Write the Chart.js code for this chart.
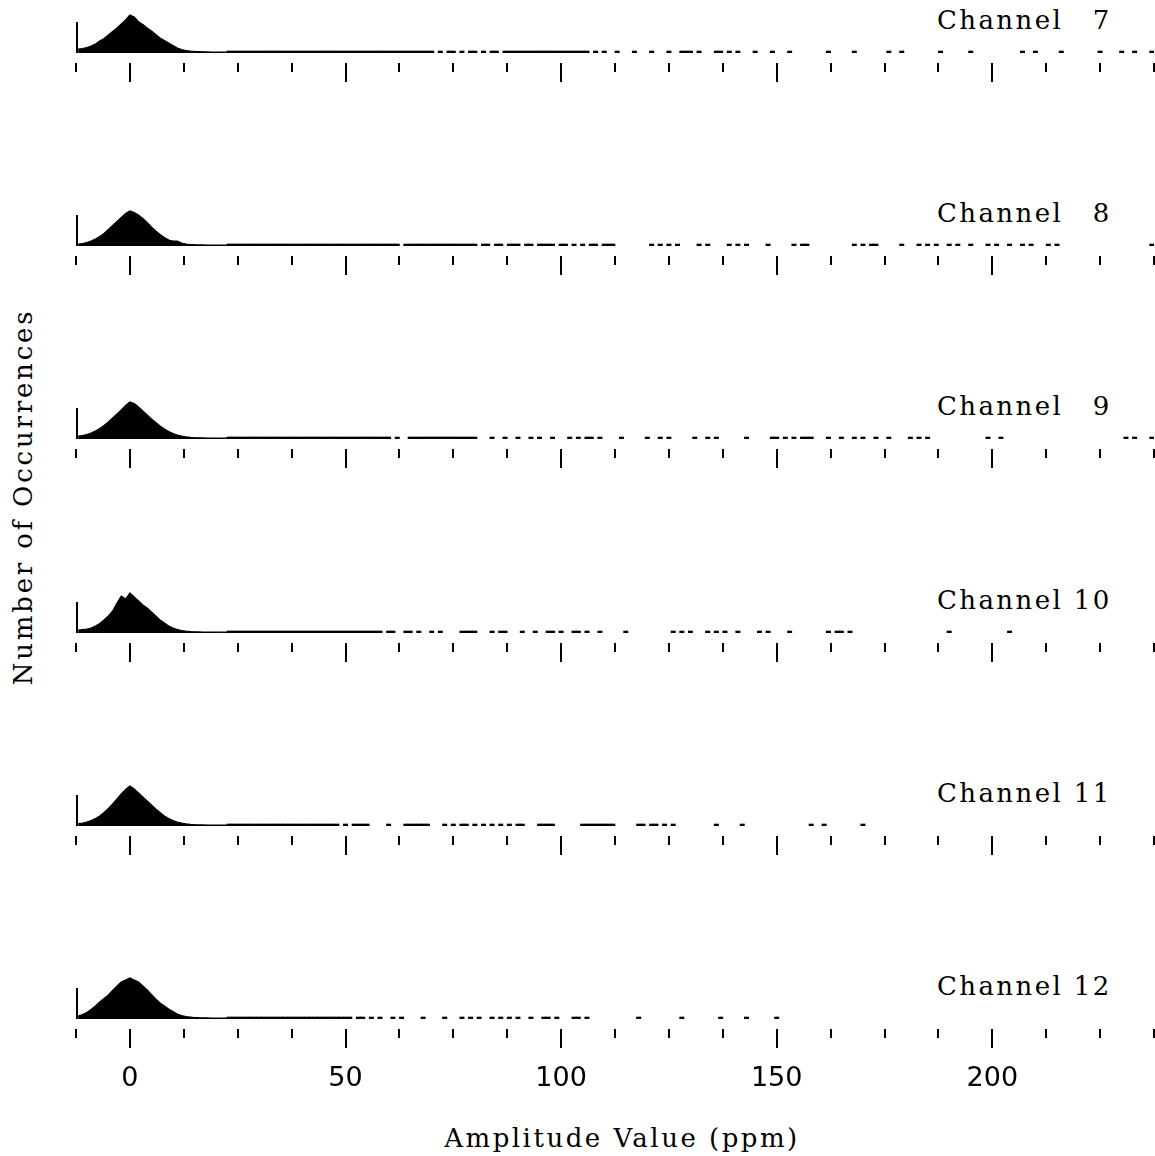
<!DOCTYPE html>
<html>
<head>
<meta charset="utf-8">
<script src="https://cdn.jsdelivr.net/npm/chart.js@4.4.1/dist/chart.umd.min.js"></script>
<style>
  body { margin: 0; width: 1155px; height: 1156px; background: #fff; position: relative; overflow: hidden;
         font-family: "DejaVu Serif", serif; color: #000; }
  .panel { position: absolute; left: 60px; width: 1095px; height: 130px; }
  .chan { position: absolute; left: 937px; white-space: pre; font-size: 26px; line-height: 1; letter-spacing: 2.4px; }
  #ytitle { position: absolute; left: 23px; top: 497px; white-space: nowrap; font-size: 26px; line-height: 1;
            letter-spacing: 2.8px; transform: translate(-50%, -50%) rotate(-90deg); }
  #xtitle { position: absolute; left: 622px; top: 1138px; white-space: nowrap; font-size: 26px; line-height: 1;
            letter-spacing: 2.5px; transform: translate(-50%, -50%); }
</style>
</head>
<body>
<div id="ytitle">Number of Occurrences</div>
<div id="xtitle">Amplitude Value (ppm)</div>
<script>
// Amplitude histograms, one panel per channel. Bins are 1 ppm wide.

const CHANNEL_NAMES = ["Channel\u2007 7", "Channel\u2007 8", "Channel\u2007 9", "Channel 10", "Channel 11", "Channel 12"];
const TICK_LABELS = [0, 50, 100, 150, 200];
const X_MIN = -12.5, X_MAX = 237.5, X_STEP = 12.5;
const Y_MAX = 1800;
const Y_AXIS_TOP = 1240;

// bins of the main peak
const CORE_BINS = [-12, -11, -10, -9, -8, -7, -6, -5, -4, -3, -2, -1, 0, 1, 2, 3, 4, 5, 6,
  7, 8, 9, 10, 11, 12, 13, 14, 15, 16, 17, 18, 19, 20, 21, 22, 23];

const ch7Core = [160, 180, 220, 280, 360, 480, 580, 720, 860, 1000, 1160, 1320, 1520, 1440, 1250, 1140,
  1000, 880, 740, 600, 500, 400, 300, 200, 140, 100, 80, 64, 56, 48, 44, 40, 40, 36, 32, 32];
const ch8Core = [80, 100, 140, 200, 280, 380, 500, 660, 820, 980, 1140, 1300, 1400, 1340, 1240, 1100,
  940, 760, 600, 460, 340, 240, 200, 200, 120, 80, 60, 52, 48, 44, 40, 40, 36, 36, 32, 32];
const ch9Core = [120, 140, 180, 240, 320, 420, 540, 680, 840, 1000, 1160, 1340, 1480, 1420, 1280, 1120,
  960, 800, 660, 520, 400, 300, 220, 160, 120, 88, 68, 56, 48, 44, 40, 40, 36, 36, 32, 32];
const ch10Core = [120, 140, 160, 200, 280, 380, 520, 680, 880, 1200, 1480, 1360, 1600, 1440, 1280, 1120,
  1000, 840, 680, 520, 400, 280, 200, 140, 100, 72, 56, 48, 44, 40, 40, 36, 36, 32, 32, 28];
const ch11Core = [100, 120, 160, 220, 300, 400, 540, 700, 880, 1080, 1280, 1460, 1600, 1480, 1320, 1160,
  1000, 840, 680, 540, 400, 300, 220, 160, 120, 88, 64, 52, 48, 44, 40, 40, 36, 36, 32, 32];
const ch12Core = [120, 180, 260, 380, 520, 680, 820, 960, 1140, 1320, 1480, 1560, 1640, 1560, 1480, 1320,
  1160, 980, 800, 640, 520, 400, 300, 200, 140, 100, 80, 60, 52, 48, 44, 40, 40, 36, 36, 32];

// bins further out that hold only an occurrence or two
const ch7Tail = [23, 24, 25, 26, 27, 28, 29, 30, 31, 32, 33, 34, 35, 36, 37, 38, 39, 40, 41, 42, 43, 44, 45, 46, 47,
  48, 49, 50, 51, 52, 53, 54, 55, 56, 57, 58, 59, 60, 61, 62, 63, 64, 65, 66, 67, 68, 69, 70, 72, 74, 75, 77,
  79, 80, 82, 84, 85, 87, 88, 89, 90, 91, 92, 93, 94, 95, 96, 97, 98, 99, 100, 101, 102, 103, 104, 105, 106,
  108, 110, 113, 117, 121, 125, 128, 129, 130, 132, 136, 137, 139, 141, 145, 149, 153, 162, 168, 176, 179,
  188, 195, 207, 210, 216, 225, 230, 233, 237];
const ch8Tail = [23, 24, 25, 26, 27, 28, 29, 30, 31, 32, 33, 34, 35, 36, 37, 38, 39, 40, 41, 42, 43, 44, 45, 46, 47,
  48, 49, 50, 51, 52, 53, 54, 55, 56, 57, 58, 59, 60, 61, 62, 64, 65, 66, 67, 68, 69, 70, 71, 72, 73, 74, 75,
  76, 77, 78, 79, 80, 82, 83, 85, 86, 88, 89, 90, 92, 93, 95, 96, 97, 98, 100, 101, 103, 105, 107, 108, 110,
  111, 112, 121, 123, 125, 127, 132, 134, 139, 141, 143, 148, 154, 156, 157, 168, 170, 172, 173, 179, 183,
  185, 187, 190, 192, 195, 199, 201, 204, 207, 209, 213, 215, 237];
const ch9Tail = [23, 24, 25, 26, 27, 28, 29, 30, 31, 32, 33, 34, 35, 36, 37, 38, 39, 40, 41, 42, 43, 44, 45, 46, 47,
  48, 49, 50, 51, 52, 53, 54, 55, 56, 57, 58, 59, 60, 62, 65, 66, 67, 68, 69, 70, 71, 72, 73, 74, 75, 76, 77,
  78, 79, 80, 84, 87, 90, 93, 95, 98, 102, 104, 106, 107, 109, 114, 120, 123, 125, 131, 134, 136, 143, 149,
  150, 152, 154, 156, 157, 158, 162, 165, 168, 170, 173, 176, 181, 183, 185, 199, 202, 231, 233, 237];
const ch10Tail = [23, 24, 25, 26, 27, 28, 29, 30, 31, 32, 33, 34, 35, 36, 37, 38, 39, 40, 41, 42, 43, 44, 45, 46, 47,
  48, 49, 50, 51, 52, 53, 54, 55, 56, 57, 58, 60, 61, 64, 65, 67, 70, 72, 77, 78, 79, 80, 84, 86, 87, 91, 94,
  97, 98, 100, 103, 104, 106, 109, 115, 126, 128, 130, 134, 136, 138, 141, 146, 148, 153, 162, 164, 165, 167,
  190, 204];
const ch11Tail = [23, 24, 25, 26, 27, 28, 29, 30, 31, 32, 33, 34, 35, 36, 37, 38, 39, 40, 41, 42, 43, 44, 45, 46, 47,
  48, 50, 52, 53, 54, 55, 60, 64, 65, 66, 67, 68, 69, 73, 75, 77, 78, 80, 82, 84, 86, 88, 90, 91, 95, 96, 97,
  98, 105, 106, 107, 108, 109, 110, 111, 112, 118, 119, 121, 122, 124, 126, 136, 142, 158, 161, 170];
const ch12Tail = [23, 24, 25, 26, 27, 28, 29, 30, 31, 32, 33, 34, 35, 36, 37, 38, 39, 40, 41, 42, 43, 44, 45, 46, 47,
  48, 49, 50, 51, 53, 54, 56, 58, 61, 63, 68, 73, 77, 79, 81, 84, 86, 88, 90, 93, 96, 97, 99, 103, 104, 106,
  118, 128, 137, 143, 150];

const CORES = [ch7Core, ch8Core, ch9Core, ch10Core, ch11Core, ch12Core];
const TAILS = [ch7Tail, ch8Tail, ch9Tail, ch10Tail, ch11Tail, ch12Tail];

// page layout: y of each panel's baseline
const BASELINES = [53, 246, 439, 633, 826, 1019];

// tick marks sit a little below the baseline, long ones at labelled values
const ppmTicks = {
  id: "ppmTicks",
  afterDraw(chart) {
    const { ctx, chartArea } = chart;
    const xs = chart.scales.x, ys = chart.scales.y;
    const base = chartArea.bottom;
    ctx.save();
    ctx.strokeStyle = "#000";
    ctx.lineWidth = 2;
    ctx.beginPath();
    for (const t of xs.ticks) {
      const px = Math.round(xs.getPixelForValue(t.value));
      const major = TICK_LABELS.includes(t.value);
      ctx.moveTo(px, base + 10);
      ctx.lineTo(px, base + (major ? 29 : 19));
    }
    const x0 = Math.round(xs.getPixelForValue(X_MIN)) + 1;
    ctx.moveTo(x0, ys.getPixelForValue(0));
    ctx.lineTo(x0, ys.getPixelForValue(Y_AXIS_TOP));
    ctx.stroke();
    ctx.restore();
  },
};

CHANNEL_NAMES.forEach((name, i) => {
  const base = BASELINES[i];
  const last = i === CHANNEL_NAMES.length - 1;

  const lab = document.createElement("div");
  lab.className = "chan";
  lab.textContent = name;
  lab.style.top = (base - 46) + "px";
  document.body.appendChild(lab);

  const wrap = document.createElement("div");
  wrap.className = "panel";
  wrap.style.top = (base - 50) + "px";
  const cv = document.createElement("canvas");
  wrap.appendChild(cv);
  document.body.appendChild(wrap);

  new Chart(cv, {
    type: "bar",
    data: {
      datasets: [
        {
          type: "line",
          data: CORE_BINS.map((b, k) => ({ x: b, y: CORES[i][k] })),
          borderColor: "#000",
          backgroundColor: "#000",
          borderWidth: 1.2,
          pointRadius: 0,
          fill: "origin",
          tension: 0,
        },
        {
          data: TAILS[i].map((b) => ({ x: b, y: 1 })),
          backgroundColor: "#000",
          borderWidth: 0,
          barPercentage: 1,
          categoryPercentage: 1,
          minBarLength: 2,
        },
      ],
    },
    options: {
      responsive: true,
      maintainAspectRatio: false,
      animation: false,
      layout: { padding: { left: 16, right: 1, top: 5, bottom: 0 } },
      plugins: { legend: { display: false }, tooltip: { enabled: false } },
      scales: {
        x: {
          type: "linear",
          min: X_MIN,
          max: X_MAX,
          offset: false,
          grid: { display: false, drawTicks: false },
          border: { display: false },
          afterFit: (s) => { s.height = 80; s.paddingLeft = 0; s.paddingRight = 0; },
          ticks: {
            stepSize: X_STEP,
            autoSkip: false,
            maxRotation: 0,
            padding: 44,
            color: last ? "#000" : "rgba(0,0,0,0)",
            font: { family: "DejaVu Sans", size: 27 },
            callback: (v) => (TICK_LABELS.includes(v) ? String(v) : ""),
          },
        },
        y: { display: false, min: 0, max: Y_MAX },
      },
    },
    plugins: [ppmTicks],
  });
});
</script>
</body>
</html>
